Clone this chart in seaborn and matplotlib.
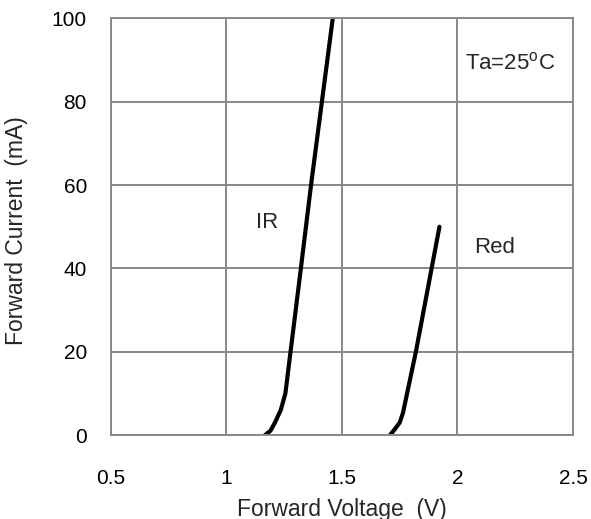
import matplotlib
matplotlib.use("Agg")
import matplotlib.pyplot as plt
import seaborn as sns
import pandas as pd

# Data
ir_voltage = [1.167, 1.19, 1.21, 1.235, 1.255, 1.322, 1.366, 1.46]
ir_current = [0, 1, 3, 6, 10, 40, 60, 100]
red_voltage = [1.708, 1.73, 1.75, 1.764, 1.82, 1.888, 1.922]
red_current = [0, 1.5, 3, 5.3, 20, 40, 50]
x_ticks = [0.5, 1, 1.5, 2, 2.5]
x_tick_labels = ["0.5", "1", "1.5", "2", "2.5"]
y_ticks = [0, 20, 40, 60, 80, 100]

sns.set_theme(style="white")
plt.rcParams['font.family'] = ['Liberation Sans', 'DejaVu Sans']
plt.rcParams['mathtext.fontset'] = 'custom'
plt.rcParams['mathtext.rm'] = 'Liberation Sans'

df = pd.concat([
    pd.DataFrame({"V": ir_voltage, "I": ir_current, "s": "IR"}),
    pd.DataFrame({"V": red_voltage, "I": red_current, "s": "Red"}),
], ignore_index=True)

fig = plt.figure(figsize=(5.91, 5.19), dpi=100)
ax = fig.add_axes([0.1878, 0.1618, 0.9695 - 0.1878, 0.9644 - 0.1618])

grey = "#888888"
sns.lineplot(data=df, x="V", y="I", units="s", estimator=None, sort=False,
             color="black", linewidth=3.0, ax=ax, legend=False)

ax.set_xlim(0.5, 2.5)
ax.set_ylim(0, 100)
ax.set_xticks(x_ticks)
ax.set_xticklabels(x_tick_labels)
ax.set_yticks(y_ticks)
ax.grid(True, color=grey, linewidth=1.4)
ax.set_axisbelow(True)
for sp in ax.spines.values():
    sp.set_color(grey)
    sp.set_linewidth(1.4)
ax.tick_params(axis="both", which="both", direction="out", length=4.3, width=1.2,
               color=grey, labelsize=15, labelcolor="black")
ax.tick_params(axis="x", pad=20)
ax.tick_params(axis="y", pad=13)

ax.set_xlabel("Forward Voltage  (V)", fontsize=16.5)
ax.set_ylabel("Forward Current  (mA)", fontsize=16.5)
ax.xaxis.set_label_coords(0.5, -0.15)
ax.yaxis.set_label_coords(-0.18, 0.49)

ax.text(1.175, 51, "IR", fontsize=16, ha="center", va="center")
ax.text(2.162, 45, "Red", fontsize=16, ha="center", va="center")
ax.text(2.227, 89.3, r"Ta=25$^{\rm o}$C", fontsize=16, ha="center", va="center",
        bbox=dict(facecolor="white", edgecolor="none", pad=5))

fig.savefig("out.png", dpi=100)
